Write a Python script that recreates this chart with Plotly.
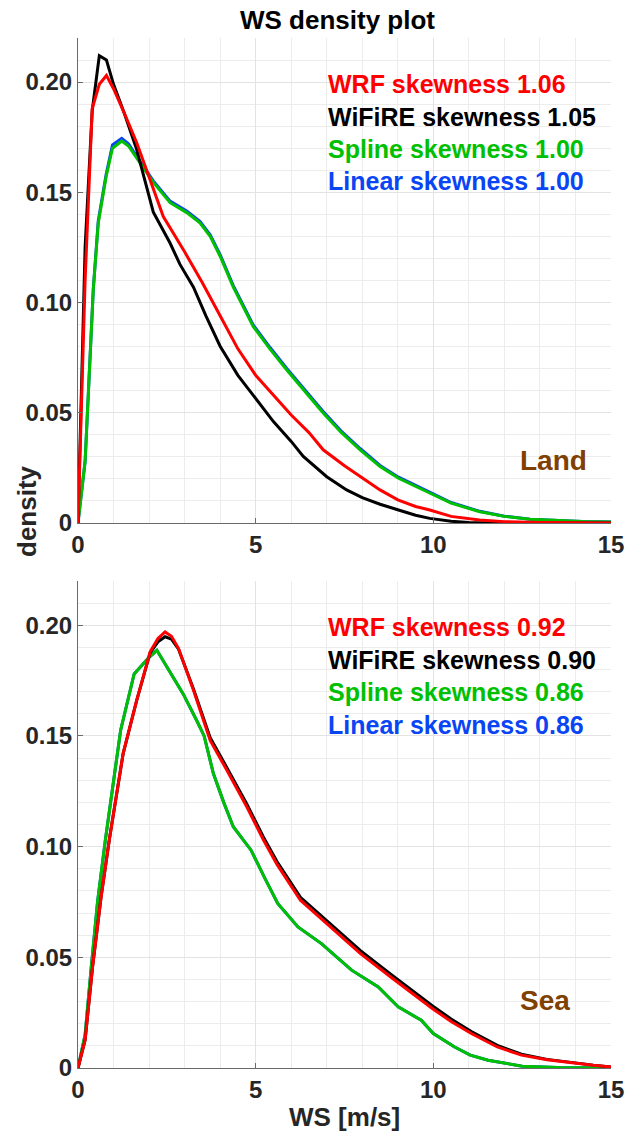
import plotly.graph_objects as go

# ---------------- data ----------------
# Land panel
land_wrf_x = [0, 0.2, 0.4, 0.6, 0.8, 1.0, 1.3, 1.65, 2.0, 2.4, 3.0, 3.5, 4.0, 4.5, 5.0, 5.5, 6.0, 6.5, 6.9, 7.5, 7.94, 8.5, 9.0, 9.5, 9.9, 10.5, 11.3, 12.0, 13.0, 14.0, 15.0]
land_wrf_y = [0, 0.11, 0.188, 0.199, 0.203, 0.197, 0.186, 0.1726, 0.157, 0.139, 0.123, 0.109, 0.094, 0.079, 0.067, 0.058, 0.049, 0.041, 0.0332, 0.026, 0.021, 0.015, 0.0105, 0.0075, 0.0059, 0.003, 0.0014, 0.0006, 0.0002, 0.0001, 0.0]

land_wifire_x = [0, 0.2, 0.4, 0.6, 0.8, 1.0, 1.3, 1.65, 2.12, 2.59, 2.87, 3.25, 3.6, 4.0, 4.5, 5.03, 5.5, 6.0, 6.34, 7.0, 7.56, 8.0, 8.5, 9.02, 9.5, 9.9, 10.5, 11.0, 12.0, 13.0, 15.0]
land_wifire_y = [0, 0.125, 0.187, 0.212, 0.210, 0.199, 0.186, 0.1695, 0.141, 0.127, 0.1173, 0.107, 0.094, 0.0802, 0.067, 0.0559, 0.046, 0.037, 0.0302, 0.021, 0.015, 0.0115, 0.0085, 0.0059, 0.0035, 0.0021, 0.0008, 0.0002, 0.0, 0.0, 0.0]

land_spline_x = [0, 0.2, 0.43, 0.57, 0.79, 0.97, 1.23, 1.42, 1.74, 2.12, 2.59, 3.06, 3.43, 3.72, 4.0, 4.37, 4.93, 5.4, 5.87, 6.4, 6.9, 7.4, 7.94, 8.5, 9.02, 9.91, 10.5, 11.31, 12.0, 12.72, 13.5, 14.2, 15.0]
land_spline_y = [0, 0.028, 0.106, 0.136, 0.157, 0.170, 0.1733, 0.171, 0.1635, 0.1545, 0.1453, 0.1408, 0.1362, 0.130, 0.121, 0.107, 0.0892, 0.0790, 0.0695, 0.0595, 0.0499, 0.0412, 0.0332, 0.0256, 0.0203, 0.0135, 0.009, 0.0051, 0.003, 0.0017, 0.001, 0.0007, 0.0005]

land_linear_x = [0, 0.2, 0.43, 0.57, 0.79, 0.97, 1.23, 1.42, 1.74, 2.12, 2.59, 3.06, 3.43, 3.72, 4.0, 4.37, 4.93, 5.4, 5.87, 6.4, 6.9, 7.4, 7.94, 8.5, 9.02, 9.91, 10.5, 11.31, 12.0, 12.72, 13.5, 14.2, 15.0]
land_linear_y = [0, 0.028, 0.106, 0.137, 0.158, 0.1715, 0.1745, 0.172, 0.1642, 0.1552, 0.146, 0.1415, 0.1369, 0.1307, 0.1217, 0.1077, 0.0899, 0.0797, 0.0702, 0.0602, 0.0506, 0.0418, 0.0338, 0.0261, 0.0208, 0.0139, 0.0093, 0.0053, 0.0031, 0.0017, 0.001, 0.0007, 0.0005]

# Sea panel
sea_wrf_x = [0, 0.2, 0.41, 0.65, 0.88, 1.27, 1.65, 2.03, 2.25, 2.45, 2.63, 2.83, 3.25, 3.72, 4.19, 4.75, 5.22, 5.6, 6.26, 7.2, 7.95, 8.8, 9.66, 9.97, 10.5, 11.07, 11.8, 12.48, 13.2, 13.9, 14.5, 15.0]
sea_wrf_y = [0, 0.0126, 0.0457, 0.0773, 0.103, 0.142, 0.166, 0.188, 0.194, 0.197, 0.195, 0.1895, 0.1706, 0.148, 0.1345, 0.118, 0.103, 0.092, 0.0758, 0.0622, 0.0517, 0.0411, 0.0306, 0.0269, 0.021, 0.0156, 0.0095, 0.0058, 0.0037, 0.0023, 0.0012, 0.0005]

sea_wifire_x = [0, 0.2, 0.41, 0.65, 0.88, 1.27, 1.65, 2.03, 2.25, 2.45, 2.63, 2.83, 3.25, 3.72, 4.19, 4.75, 5.22, 5.6, 6.26, 7.2, 7.95, 8.8, 9.66, 9.97, 10.5, 11.07, 11.8, 12.48, 13.2, 13.9, 14.5, 15.0]
sea_wifire_y = [0, 0.0126, 0.0457, 0.0773, 0.103, 0.142, 0.166, 0.1875, 0.1925, 0.1948, 0.1937, 0.1892, 0.1712, 0.1492, 0.1357, 0.1193, 0.1043, 0.0933, 0.0771, 0.0635, 0.0530, 0.0424, 0.0318, 0.0281, 0.0221, 0.0165, 0.0102, 0.0062, 0.0039, 0.0024, 0.0013, 0.0005]

sea_spline_x = [0, 0.2, 0.37, 0.55, 0.77, 1.2, 1.58, 1.8, 2.0, 2.22, 2.61, 2.96, 3.34, 3.55, 3.81, 4.1, 4.37, 4.65, 4.87, 5.25, 5.62, 6.19, 6.85, 7.7, 8.45, 9.01, 9.66, 10.0, 10.6, 11.04, 11.54, 12.5, 13.5, 15.0]
sea_spline_y = [0, 0.015, 0.045, 0.075, 0.103, 0.1526, 0.178, 0.182, 0.1855, 0.1887, 0.178, 0.169, 0.157, 0.150, 0.133, 0.120, 0.109, 0.103, 0.0984, 0.086, 0.0743, 0.0637, 0.0562, 0.0442, 0.0366, 0.0276, 0.0216, 0.0156, 0.0095, 0.0058, 0.0035, 0.0008, 0.0002, 0.0]

sea_linear_x = [0, 0.2, 0.37, 0.55, 0.77, 1.2, 1.58, 1.8, 2.0, 2.22, 2.61, 2.96, 3.34, 3.55, 3.81, 4.1, 4.37, 4.65, 4.87, 5.25, 5.62, 6.19, 6.85, 7.7, 8.45, 9.01, 9.66, 10.0, 10.6, 11.04, 11.54, 12.5, 13.5, 15.0]
sea_linear_y = [0, 0.015, 0.045, 0.075, 0.103, 0.1526, 0.178, 0.182, 0.1855, 0.1887, 0.178, 0.169, 0.157, 0.150, 0.133, 0.120, 0.109, 0.103, 0.0984, 0.086, 0.0743, 0.0637, 0.0562, 0.0442, 0.0366, 0.0276, 0.0216, 0.0156, 0.0095, 0.0058, 0.0035, 0.0008, 0.0002, 0.0]

land_labels = ["WRF skewness 1.06", "WiFiRE skewness 1.05", "Spline skewness 1.00", "Linear skewness 1.00"]
sea_labels = ["WRF skewness 0.92", "WiFiRE skewness 0.90", "Spline skewness 0.86", "Linear skewness 0.86"]
label_colors = ["#ff0000", "#000000", "#00c000", "#0a45f5"]

x_ticks = [0, 5, 10, 15]
y_ticks = [0, 0.05, 0.10, 0.15, 0.20]
y_ticktext = ["0", "0.05", "0.10", "0.15", "0.20"]

# ---------------- figure ----------------
FONT = "Liberation Sans, Arial, Helvetica, sans-serif"
TXT = "#262626"
W, H = 636, 1140
ML, MR, MT, MB = 78, 25, 38, 72
PH = H - MT - MB

def py(pix):  # pixel row -> paper y
    return (H - MB - pix) / PH

def px(pix):  # pixel col -> paper x
    return (pix - ML) / (W - ML - MR)

fig = go.Figure()

c_red, c_black, c_green, c_blue = "#ff0000", "#000000", "#00c000", "#0a45f5"

def add(x, y, color, xa, ya):
    fig.add_trace(go.Scatter(x=x, y=y, mode="lines", line=dict(color=color, width=3),
                             xaxis=xa, yaxis=ya, showlegend=False, hoverinfo="skip"))

add(land_linear_x, land_linear_y, c_blue, "x", "y")
add(land_spline_x, land_spline_y, c_green, "x", "y")
add(land_wifire_x, land_wifire_y, c_black, "x", "y")
add(land_wrf_x, land_wrf_y, c_red, "x", "y")

add(sea_linear_x, sea_linear_y, c_blue, "x2", "y2")
add(sea_spline_x, sea_spline_y, c_green, "x2", "y2")
add(sea_wifire_x, sea_wifire_y, c_black, "x2", "y2")
add(sea_wrf_x, sea_wrf_y, c_red, "x2", "y2")

tickfont = dict(family=FONT, size=24, color=TXT, weight="bold")
gridc = "#e3e3e3"
mgridc = "#ececec"

def xaxis(anchor):
    return dict(range=[0, 15], tickvals=x_ticks, ticktext=[str(v) for v in x_ticks],
                showgrid=True, gridcolor=gridc, gridwidth=1,
                minor=dict(dtick=1, tick0=0, showgrid=True, gridcolor=mgridc, gridwidth=1, ticks=""),
                zeroline=False, showline=True, linecolor="#6a6a6a", linewidth=1,
                ticks="inside", ticklen=5, tickcolor="#6a6a6a",
                tickfont=tickfont, anchor=anchor, fixedrange=True)

def yaxis(anchor, dom):
    return dict(range=[0, 0.22], domain=dom, tickvals=y_ticks, ticktext=y_ticktext,
                showgrid=True, gridcolor=gridc, gridwidth=1,
                minor=dict(dtick=0.01, tick0=0, showgrid=True, gridcolor=mgridc, gridwidth=1, ticks=""),
                zeroline=False, showline=True, linecolor="#6a6a6a", linewidth=1,
                ticks="inside", ticklen=5, tickcolor="#6a6a6a",
                tickfont=tickfont, anchor=anchor, fixedrange=True)

fig.update_layout(
    width=W, height=H,
    margin=dict(l=ML, r=MR, t=MT, b=MB),
    paper_bgcolor="white", plot_bgcolor="white",
    xaxis=xaxis("y"),
    yaxis=yaxis("x", [py(523), 1.0]),
    xaxis2=xaxis("y2"),
    yaxis2=yaxis("x2", [0.0, py(581)]),
    showlegend=False,
)

anns = []
# title
anns.append(dict(text="WS density plot", x=px(337), y=py(20), xref="paper", yref="paper",
                 xanchor="center", yanchor="middle", showarrow=False,
                 font=dict(family=FONT, size=26, color="#000000", weight="bold")))
# y label
anns.append(dict(text="density", x=px(27), y=py(511), xref="paper", yref="paper",
                 xanchor="center", yanchor="middle", showarrow=False, textangle=-90,
                 font=dict(family=FONT, size=26, color=TXT, weight="bold")))
# x label
anns.append(dict(text="WS [m/s]", x=px(344), y=py(1117), xref="paper", yref="paper",
                 xanchor="center", yanchor="middle", showarrow=False,
                 font=dict(family=FONT, size=26, color=TXT, weight="bold")))
# legends
for i, (t, c) in enumerate(zip(land_labels, label_colors)):
    anns.append(dict(text=t, x=px(326), y=py(84 + 32.5 * i), xref="paper", yref="paper",
                     xanchor="left", yanchor="middle", showarrow=False,
                     font=dict(family=FONT, size=25, color=c, weight="bold")))
for i, (t, c) in enumerate(zip(sea_labels, label_colors)):
    anns.append(dict(text=t, x=px(326), y=py(627 + 32.5 * i), xref="paper", yref="paper",
                     xanchor="left", yanchor="middle", showarrow=False,
                     font=dict(family=FONT, size=25, color=c, weight="bold")))
anns.append(dict(text="Land", x=px(553), y=py(460), xref="paper", yref="paper",
                 xanchor="center", yanchor="middle", showarrow=False,
                 font=dict(family=FONT, size=28, color="#7f4000", weight="bold")))
anns.append(dict(text="Sea", x=px(545), y=py(1001), xref="paper", yref="paper",
                 xanchor="center", yanchor="middle", showarrow=False,
                 font=dict(family=FONT, size=28, color="#7f4000", weight="bold")))
fig.update_layout(annotations=anns)

fig.write_html("out.html", config={"displayModeBar": False})
